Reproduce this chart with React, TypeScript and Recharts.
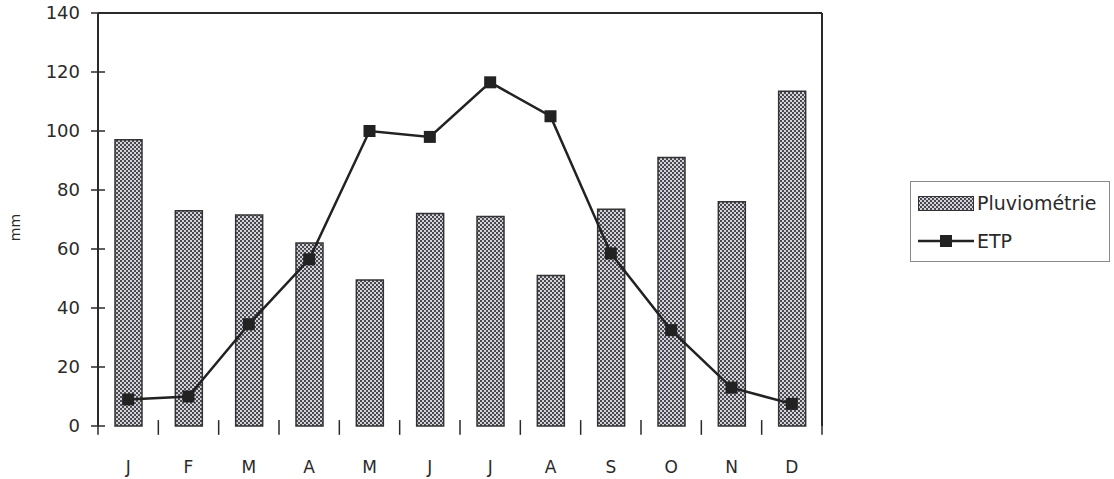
import { ComposedChart, Bar, Line, XAxis, YAxis, ReferenceLine } from 'recharts'

const months = ['J', 'F', 'M', 'A', 'M', 'J', 'J', 'A', 'S', 'O', 'N', 'D']
const pluviometrie = [97, 73, 71.5, 62, 49.5, 72, 71, 51, 73.5, 91, 76, 113.5]
const etp = [9, 10, 34.5, 56.5, 100, 98, 116.5, 105, 58.5, 32.5, 13, 7.5]
const yTicks = [0, 20, 40, 60, 80, 100, 120, 140]
const monthEdges = [0, 1, 2, 3, 4, 5, 6, 7, 8, 9, 10, 11, 12]

const data = months.map((m, i) => ({
  month: m,
  idx: i,
  pluie: pluviometrie[i],
  etp: etp[i],
}))

const FONT = '"DejaVu Sans", sans-serif'
const INK = '#2a2a2a'

function Pattern({ id }: { id: string }) {
  return (
    <defs>
      <pattern id={id} width={4} height={4} patternUnits="userSpaceOnUse">
        <rect width={4} height={4} fill="#d4d2da" />
        <rect x={0} y={0} width={2} height={2} fill="#4a4a4e" />
        <rect x={2} y={2} width={2} height={2} fill="#4a4a4e" />
      </pattern>
    </defs>
  )
}

function YTick(props: any) {
  const { x, y, payload } = props
  return (
    <g>
      <line x1={x + 11} x2={x + 25} y1={y} y2={y} stroke={INK} strokeWidth={1.5} />
      <text x={x} y={y} dy="0.36em" textAnchor="end" fontSize={18} fill={INK} fontFamily={FONT}>
        {payload.value}
      </text>
    </g>
  )
}

function Square(props: any) {
  const { cx, cy, index } = props
  return <rect key={index} x={cx - 6} y={cy - 6} width={12} height={12} fill="#222" />
}

function MmLabel(props: any) {
  const { viewBox } = props
  const cx = viewBox.x + 15
  const cy = viewBox.y + viewBox.height / 2 + 8
  return (
    <text
      x={cx}
      y={cy}
      transform={`rotate(-90, ${cx}, ${cy})`}
      textAnchor="middle"
      dy="0.36em"
      fontSize={14}
      fill={INK}
      fontFamily={FONT}
    >
      mm
    </text>
  )
}

function LegendBox() {
  return (
    <div
      style={{
        position: 'absolute',
        left: 910,
        top: 181,
        width: 198,
        height: 79,
        border: '1px solid #8a8a8a',
        background: '#fff',
        fontFamily: FONT,
        fontSize: 19,
        color: INK,
      }}
    >
      <div style={{ position: 'absolute', left: 7, top: 10, display: 'flex', alignItems: 'center' }}>
        <svg width={56} height={15}>
          <Pattern id="dotsLegend" />
          <rect x={0.5} y={0.5} width={55} height={14} fill="url(#dotsLegend)" stroke="#333" />
        </svg>
        <span style={{ marginLeft: 3 }}>Pluviométrie</span>
      </div>
      <div style={{ position: 'absolute', left: 7, top: 48, display: 'flex', alignItems: 'center' }}>
        <svg width={56} height={16}>
          <line x1={0} x2={56} y1={8} y2={8} stroke="#222" strokeWidth={2.5} />
          <rect x={22} y={2} width={12} height={12} fill="#222" />
        </svg>
        <span style={{ marginLeft: 3 }}>ETP</span>
      </div>
    </div>
  )
}

export default function App() {
  return (
    <div style={{ position: 'absolute', left: 0, top: 0, width: 1114, height: 479, background: '#fff' }}>
      <ComposedChart
        width={1114}
        height={479}
        data={data}
        margin={{ top: 13, right: 292, left: 0, bottom: 0 }}
      >
        <Pattern id="dots" />
        <XAxis
          xAxisId="edges"
          dataKey="idx"
          type="number"
          domain={[0, 12]}
          ticks={monthEdges}
          height={0}
          tick={false}
          tickLine={false}
          axisLine={{ stroke: INK, strokeWidth: 2 }}
        />
        <XAxis
          xAxisId="cat"
          dataKey="month"
          height={53}
          axisLine={false}
          tickLine={false}
          tickSize={0}
          tickMargin={35}
          interval={0}
          tick={{ fontSize: 17, fill: INK, fontFamily: FONT }}
        />
        <YAxis
          yAxisId="left"
          width={98}
          domain={[0, 140]}
          ticks={yTicks}
          interval={0}
          tickSize={7}
          tickMargin={11}
          tickLine={false}
          tick={<YTick />}
          axisLine={{ stroke: INK, strokeWidth: 2 }}
          label={<MmLabel />}
        />
        <ReferenceLine xAxisId="edges" yAxisId="left" y={140} stroke={INK} strokeWidth={2} />
        <ReferenceLine xAxisId="edges" yAxisId="left" x={12} stroke={INK} strokeWidth={2} />
        {monthEdges.map((e) => (
          <ReferenceLine
            key={`edge-${e}`}
            xAxisId="edges"
            yAxisId="left"
            segment={[
              { x: e, y: 2 },
              { x: e, y: -3 },
            ]}
            ifOverflow="visible"
            stroke={INK}
            strokeWidth={1.5}
          />
        ))}
        <Bar
          xAxisId="cat"
          yAxisId="left"
          dataKey="pluie"
          name="Pluviométrie"
          barSize={27}
          fill="url(#dots)"
          stroke="#333"
          strokeWidth={1.5}
          isAnimationActive={false}
        />
        <Line
          xAxisId="cat"
          yAxisId="left"
          dataKey="etp"
          name="ETP"
          type="linear"
          stroke="#222"
          strokeWidth={2.5}
          dot={<Square />}
          activeDot={false}
          isAnimationActive={false}
        />
      </ComposedChart>
      <LegendBox />
    </div>
  )
}
